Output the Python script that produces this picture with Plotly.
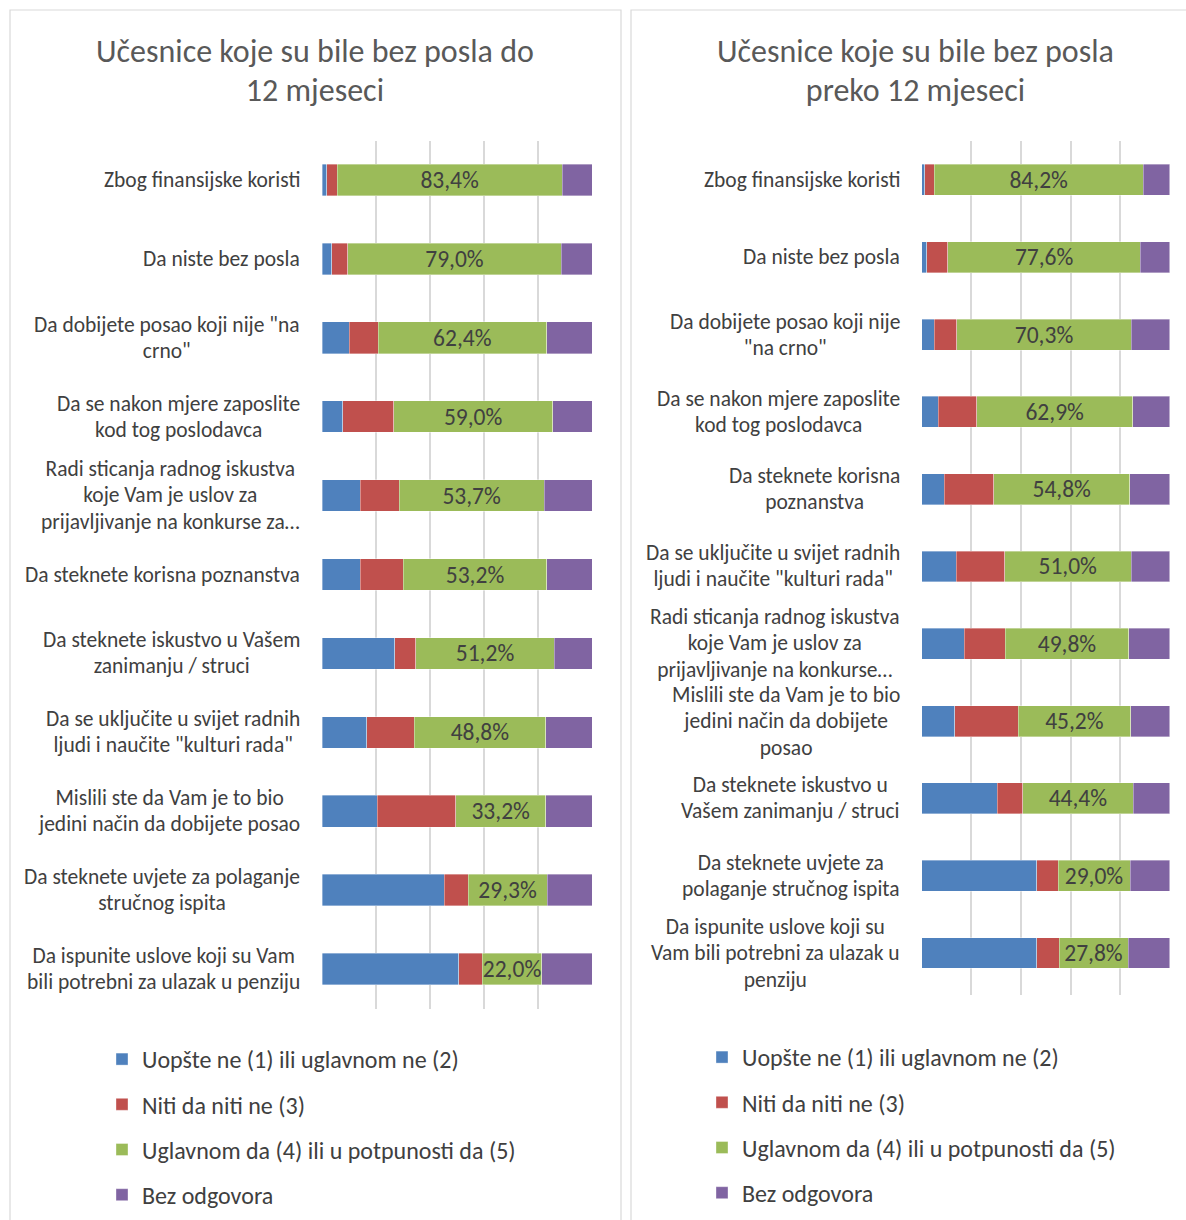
import plotly.graph_objects as go

W, H = 1186, 1220

series_names = ["Uopšte ne (1) ili uglavnom ne (2)", "Niti da niti ne (3)",
                "Uglavnom da (4) ili u potpunosti da (5)", "Bez odgovora"]
colors = ["#4F81BD", "#C0504D", "#9BBB59", "#8064A2"]

titles = ["Učesnice koje su bile bez posla do<br>12 mjeseci",
          "Učesnice koje su bile bez posla<br>preko 12 mjeseci"]

cats1 = [
    "Zbog finansijske koristi",
    "Da niste bez posla",
    "Da dobijete posao koji nije \"na<br>crno\"",
    "Da se nakon mjere zaposlite<br>kod tog poslodavca",
    "Radi sticanja radnog iskustva<br>koje Vam je uslov za<br>prijavljivanje na konkurse za…",
    "Da steknete korisna poznanstva",
    "Da steknete iskustvo u Vašem<br>zanimanju / struci",
    "Da se uključite u svijet radnih<br>ljudi i naučite \"kulturi rada\"",
    "Mislili ste da Vam je to bio<br>jedini način da dobijete posao",
    "Da steknete uvjete za polaganje<br>stručnog ispita",
    "Da ispunite uslove koji su Vam<br>bili potrebni za ulazak u penziju",
]
neg1 = [1.8, 3.7, 10.0, 7.7, 14.1, 14.1, 26.9, 16.5, 20.4, 45.3, 50.6]
neu1 = [3.8, 5.9, 10.8, 18.8, 14.5, 16.0, 7.9, 17.6, 29.2, 8.8, 8.8]
pos1 = [83.4, 79.0, 62.4, 59.0, 53.7, 53.2, 51.2, 48.8, 33.2, 29.3, 22.0]
na1 = [11.0, 11.4, 16.8, 14.5, 17.7, 16.7, 14.0, 17.1, 17.2, 16.6, 18.6]

cats2 = [
    "Zbog finansijske koristi",
    "Da niste bez posla",
    "Da dobijete posao koji nije<br>\"na crno\"",
    "Da se nakon mjere zaposlite<br>kod tog poslodavca",
    "Da steknete korisna<br>poznanstva",
    "Da se uključite u svijet radnih<br>ljudi i naučite \"kulturi rada\"",
    "Radi sticanja radnog iskustva<br>koje Vam je uslov za<br>prijavljivanje na konkurse…",
    "Mislili ste da Vam je to bio<br>jedini način da dobijete<br>posao",
    "Da steknete iskustvo u<br>Vašem zanimanju / struci",
    "Da steknete uvjete za<br>polaganje stručnog ispita",
    "Da ispunite uslove koji su<br>Vam bili potrebni za ulazak u<br>penziju",
]
neg2 = [1.3, 2.0, 5.1, 6.7, 9.1, 14.0, 17.2, 13.3, 30.5, 46.4, 46.4]
neu2 = [3.8, 8.6, 9.1, 15.5, 20.0, 19.4, 16.5, 25.7, 10.3, 8.6, 9.0]
pos2 = [84.2, 77.6, 70.3, 62.9, 54.8, 51.0, 49.8, 45.2, 44.4, 29.0, 27.8]
na2 = [10.7, 11.8, 15.5, 14.9, 16.1, 15.6, 16.5, 15.8, 14.8, 16.0, 16.8]

FONT = "Calibri, Carlito, Lato, sans-serif"
LABEL_COLOR = "#404040"
TITLE_COLOR = "#595959"

def px(x):
    return x / W

def py(y):
    return 1 - y / H

def sized(text, size):
    # glyph size per line; line spacing follows the annotation's base font size
    return "<br>".join(f"<span style='font-size:{size}px'>{ln}</span>"
                       for ln in text.split("<br>"))

fig = go.Figure()

panels = [
    (cats1, [neg1, neu1, pos1, na1], "x", "y", "legend"),
    (cats2, [neg2, neu2, pos2, na2], "x2", "y2", "legend2"),
]

for pi, (cats, vals, xa, ya, lg) in enumerate(panels):
    for si, (name, col, v) in enumerate(zip(series_names, colors, vals)):
        kw = {}
        if si == 2:
            kw = dict(texttemplate="%{x:.1f}%", textposition="inside",
                      insidetextanchor="middle",
                      textfont=dict(color=LABEL_COLOR, size=23.5, family=FONT))
        fig.add_trace(go.Bar(
            y=cats, x=v, name=name, orientation="h",
            marker=dict(color=col, line=dict(width=0.6, color="rgba(255,255,255,0.6)")),
            xaxis=xa, yaxis=ya, legend=lg, legendgroup=f"p{pi}s{si}",
            hoverinfo="x+y", **kw))
    for c in cats:
        fig.add_annotation(
            x=0, xref=f"{xa} domain", y=c, yref=ya, text=sized(c, 21.5),
            xanchor="right", yanchor="middle", xshift=-20, align="center",
            showarrow=False, font=dict(size=20.3, color=LABEL_COLOR, family=FONT))

# titles
for cx, t in zip([315, 915], titles):
    fig.add_annotation(x=px(cx), xref="paper", y=py(71), yref="paper",
                       text=sized(t, 32),
                       xanchor="center", yanchor="middle", align="center",
                       showarrow=False,
                       font=dict(size=30, color=TITLE_COLOR, family=FONT))

axis_x = dict(range=[0, 100], showticklabels=False, showgrid=True,
              gridcolor="#D9D9D9", gridwidth=1.5, dtick=20, zeroline=False,
              showline=False, ticks="", fixedrange=True)

fig.update_layout(
    width=W, height=H,
    margin=dict(l=0, r=0, t=0, b=0, autoexpand=False),
    paper_bgcolor="white", plot_bgcolor="white",
    barmode="stack", bargap=0.6,
    separators=",.",
    uniformtext=dict(mode="show", minsize=23.5),
    font=dict(family=FONT, color=LABEL_COLOR),
    xaxis=dict(domain=[px(322), px(592)], anchor="y", **axis_x),
    yaxis=dict(domain=[py(1008.5), py(140.5)], anchor="x", autorange="reversed",
               showticklabels=False, showgrid=False, ticks="", categoryorder="array",
               categoryarray=cats1),
    xaxis2=dict(domain=[px(921.7), px(1169.7)], anchor="y2", **axis_x),
    yaxis2=dict(domain=[py(994.5), py(141.3)], anchor="x2", autorange="reversed",
                showticklabels=False, showgrid=False, ticks="", categoryorder="array",
                categoryarray=cats2),
    legend=dict(x=px(102), y=py(1037), xanchor="left", yanchor="top",
                tracegroupgap=11, font=dict(size=24, color=LABEL_COLOR, family=FONT),
                bgcolor="rgba(0,0,0,0)"),
    legend2=dict(x=px(702), y=py(1035), xanchor="left", yanchor="top",
                 tracegroupgap=11, font=dict(size=24, color=LABEL_COLOR, family=FONT),
                 bgcolor="rgba(0,0,0,0)"),
    shapes=[
        dict(type="rect", xref="paper", yref="paper", x0=px(10), x1=px(621),
             y0=-0.05, y1=py(10), line=dict(color="#D9D9D9", width=1.2), layer="below"),
        dict(type="rect", xref="paper", yref="paper", x0=px(631), x1=1.05,
             y0=-0.05, y1=py(10), line=dict(color="#D9D9D9", width=1.2), layer="below"),
    ],
    showlegend=True,
)

fig.write_html("out.html", config={"displayModeBar": False},
               post_script="document.body.style.margin='0';")
